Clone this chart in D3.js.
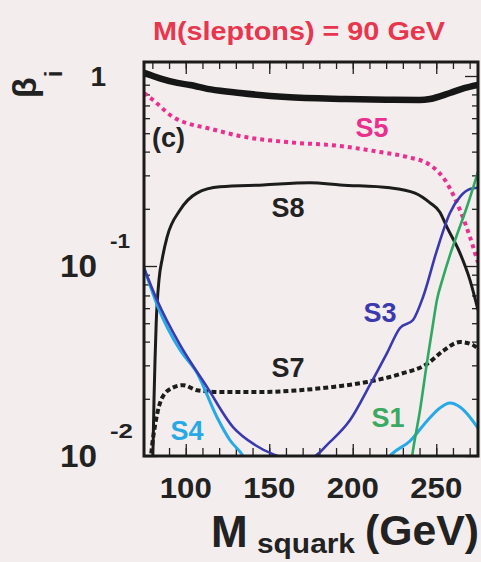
<!DOCTYPE html>
<html>
<head>
<meta charset="utf-8">
<script src="https://cdn.jsdelivr.net/npm/d3@7"></script>
<style>
  html, body { margin: 0; padding: 0; background: #f4eded; }
  svg { display: block; font-family: "Liberation Sans", Arial, Helvetica, sans-serif; font-weight: bold; }
  .axis path { display: none; }
  .axis line { stroke: #222; stroke-width: 1.3; }
</style>
</head>
<body>
<svg id="chart" width="481" height="562"></svg>
<script>
// ----- data: [M_squark (GeV), beta_i] -----
const total = [[75, 1.04], [85, 0.97], [95, 0.92], [102.5, 0.897], [115, 0.85], [132.5, 0.814],
  [160, 0.775], [196, 0.757], [220, 0.75], [240, 0.748], [246.3, 0.757], [258.2, 0.814],
  [267.2, 0.865], [275, 0.897]];
const s5 = [[75, 0.814], [80.4, 0.748], [92.4, 0.608], [102, 0.56], [112.7, 0.533], [132.5, 0.483],
  [160.6, 0.449], [192.4, 0.428], [216.3, 0.398], [232.5, 0.375], [246.3, 0.34], [256.4, 0.273],
  [264.2, 0.197], [270.2, 0.142], [275, 0.104]];
const s8 = [[80.0, 0.008], [80.5, 0.012], [81.0, 0.02], [81.6, 0.032], [82.3, 0.05], [84.0, 0.085],
  [86, 0.11], [88.8, 0.142], [96.6, 0.197], [106.7, 0.242], [120.5, 0.261], [146.3, 0.267],
  [174.4, 0.274], [192.4, 0.267], [222.3, 0.258], [237.3, 0.242], [246.3, 0.215], [252.2, 0.192],
  [256.4, 0.16], [264.2, 0.117], [270.2, 0.0843], [275, 0.0586]];
const s3 = [[75, 0.0977], [82.8, 0.0662], [96.6, 0.0384], [112.7, 0.0231], [128.3, 0.0142],
  [141.5, 0.01143], [152.2, 0.01023], [162, 0.0097], [174, 0.0097], [186.4, 0.01186],
  [198.4, 0.01545], [210.3, 0.02366], [220.5, 0.0348], [228.3, 0.0472], [236.1, 0.052],
  [242.1, 0.0687], [250.4, 0.121], [258.2, 0.19], [264.2, 0.231], [270.2, 0.254], [275, 0.258]];
const s4 = [[75, 0.0977], [83.4, 0.0608], [96.6, 0.0361], [106.7, 0.0274], [118.7, 0.016],
  [126.5, 0.0121], [134.3, 0.01], [140, 0.0078], [150, 0.0062], [200, 0.0062], [213, 0.0075],
  [222.3, 0.01], [234.3, 0.012], [244.5, 0.0153], [252.2, 0.0179], [258.2, 0.019],
  [264.2, 0.0181], [270.2, 0.016], [275, 0.014]];
const s1 = [[234.5, 0.0085], [235.5, 0.0099], [240.3, 0.01746], [244.5, 0.0313], [247.5, 0.046],
  [250.4, 0.0662], [254, 0.0865], [258.2, 0.114], [262.4, 0.146], [268.4, 0.205], [275, 0.313]];
const s7 = [[78.5, 0.0085], [79.2, 0.01], [82.2, 0.0155], [85.8, 0.0202], [91.8, 0.0228],
  [98.4, 0.0236], [106.7, 0.0222], [120.5, 0.0217], [144.5, 0.0217], [168.4, 0.0222],
  [188.2, 0.0231], [208.5, 0.0245], [228.3, 0.027], [244.5, 0.0305], [254, 0.0357],
  [264.2, 0.0398], [272, 0.0384], [275, 0.0366]];

// label anchors in data units [name, M, beta]
const curveLabels = [["S5", 211.5, 0.477], ["S8", 161.2, 0.181], ["S3", 216.3, 0.0507],
  ["S7", 161.2, 0.0261], ["S1", 221.1, 0.0142], ["S4", 100.7, 0.0121]];

const xTicks = [100, 150, 200, 250];
const xMinor = d3.range(80, 275, 10);
const yMajor = [0.01, 0.1, 1];
const yMinor = [0.02, 0.03, 0.04, 0.05, 0.06, 0.07, 0.08, 0.09, 0.2, 0.3, 0.4, 0.5, 0.6, 0.7, 0.8, 0.9];

// ----- layout -----
const svg = d3.select("#chart");
const L = 144, R = 478, T = 62, B = 456;

const x = d3.scaleLinear().domain([75, 275]).range([L, R]);
const y = d3.scaleLog().domain([0.01, 1.185]).range([B, T]);

svg.append("defs").append("clipPath").attr("id", "plot")
  .append("rect").attr("x", L).attr("y", T).attr("width", R - L).attr("height", B - T);

// ----- ticks (all pointing inward) -----
function addAxis(axis, tx, ty) {
  svg.append("g").attr("class", "axis").attr("transform", `translate(${tx},${ty})`).call(axis);
}
addAxis(d3.axisBottom(x).tickValues(xMinor).tickSize(-8).tickFormat(""), 0, B);
addAxis(d3.axisBottom(x).tickValues(xTicks).tickSize(-12).tickFormat(""), 0, B);
addAxis(d3.axisTop(x).tickValues(xMinor).tickSize(-7).tickFormat(""), 0, T);
addAxis(d3.axisTop(x).tickValues(xTicks).tickSize(-12).tickFormat(""), 0, T);
addAxis(d3.axisLeft(y).tickValues(yMinor).tickSize(-6).tickFormat(""), L, 0);
addAxis(d3.axisLeft(y).tickValues(yMajor).tickSize(-13).tickFormat(""), L, 0);
addAxis(d3.axisRight(y).tickValues(yMinor).tickSize(-6).tickFormat(""), R, 0);
addAxis(d3.axisRight(y).tickValues(yMajor).tickSize(-13).tickFormat(""), R, 0);

// ----- curves -----
const line = d3.line().x(d => x(d[0])).y(d => y(d[1])).curve(d3.curveMonotoneX);
const curves = svg.append("g").attr("clip-path", "url(#plot)").attr("fill", "none")
  .attr("stroke-linejoin", "round");

const series = [
  { data: total, color: "#161616", width: 6.5, dash: null },
  { data: s5, color: "#ea2f8e", width: 4, dash: "4,4" },
  { data: s8, color: "#1c1c1c", width: 3, dash: null },
  { data: s7, color: "#1c1c1c", width: 4, dash: "5,3" },
  { data: s4, color: "#27a9e6", width: 3, dash: null },
  { data: s3, color: "#3a3aae", width: 2.6, dash: null },
  { data: s1, color: "#2fa862", width: 2.6, dash: null }
];

curves.selectAll("path")
  .data(series)
  .join("path")
  .attr("d", d => line(d.data))
  .attr("stroke", d => d.color)
  .attr("stroke-width", d => d.width)
  .attr("stroke-dasharray", d => d.dash);

// frame
svg.append("rect").attr("x", L).attr("y", T).attr("width", R - L).attr("height", B - T)
  .attr("fill", "none").attr("stroke", "#1a1a1a").attr("stroke-width", 3);

// ----- curve labels -----
const labelColor = { S5: "#ea2f8e", S8: "#222", S3: "#3a3aae", S7: "#222", S1: "#3aaa62", S4: "#27a9e6" };
svg.append("g").selectAll("text")
  .data(curveLabels)
  .join("text")
  .attr("x", d => x(d[1]))
  .attr("y", d => y(d[2]))
  .attr("text-anchor", "middle")
  .attr("font-size", 27)
  .attr("textLength", 33)
  .attr("lengthAdjust", "spacingAndGlyphs")
  .attr("fill", d => labelColor[d[0]])
  .text(d => d[0]);

svg.append("text").attr("x", 152).attr("y", 147).attr("font-size", 27).attr("fill", "#222")
  .text("(c)");

// ----- tick labels -----
svg.append("g").selectAll("text")
  .data(xTicks)
  .join("text")
  .attr("x", d => x(d))
  .attr("y", 498)
  .attr("text-anchor", "middle")
  .attr("font-size", 29)
  .attr("textLength", 52)
  .attr("lengthAdjust", "spacingAndGlyphs")
  .attr("fill", "#222")
  .text(d => d);

svg.append("text").attr("x", 106).attr("y", y(1) + 10).attr("text-anchor", "end")
  .attr("font-size", 28).attr("fill", "#222").text("1");

const decades = svg.append("g").selectAll("g")
  .data([-1, -2])
  .join("g")
  .attr("transform", d => `translate(0,${y(Math.pow(10, d))})`);
decades.append("text").attr("x", 60).attr("y", 11).attr("font-size", 31)
  .attr("textLength", 37).attr("lengthAdjust", "spacingAndGlyphs").attr("fill", "#222").text("10");
decades.append("text").attr("x", 110).attr("y", -18).attr("font-size", 21)
  .attr("textLength", d => d === -1 ? 20 : 23).attr("lengthAdjust", "spacingAndGlyphs")
  .attr("fill", "#222").text(d => d);

// ----- titles -----
svg.append("text").attr("x", 153).attr("y", 40).attr("font-size", 26)
  .attr("textLength", 292).attr("lengthAdjust", "spacingAndGlyphs")
  .attr("fill", "#e8364e").text("M(sleptons) = 90 GeV");

svg.append("text").attr("x", 211).attr("y", 547).attr("font-size", 44).attr("fill", "#222").text("M");
svg.append("text").attr("x", 257).attr("y", 553).attr("font-size", 28)
  .attr("textLength", 98).attr("lengthAdjust", "spacingAndGlyphs").attr("fill", "#222").text("squark");
svg.append("text").attr("x", 365).attr("y", 545).attr("font-size", 42)
  .attr("textLength", 114).attr("lengthAdjust", "spacingAndGlyphs").attr("fill", "#222").text("(GeV)");

// y title: beta_i, rotated
const yt = svg.append("text").attr("transform", "translate(36,98) rotate(-90)")
  .attr("font-size", 34).attr("fill", "#222");
yt.append("tspan").text("β");
yt.append("tspan").attr("font-size", 24).attr("dy", 26).text("i");
</script>
</body>
</html>
